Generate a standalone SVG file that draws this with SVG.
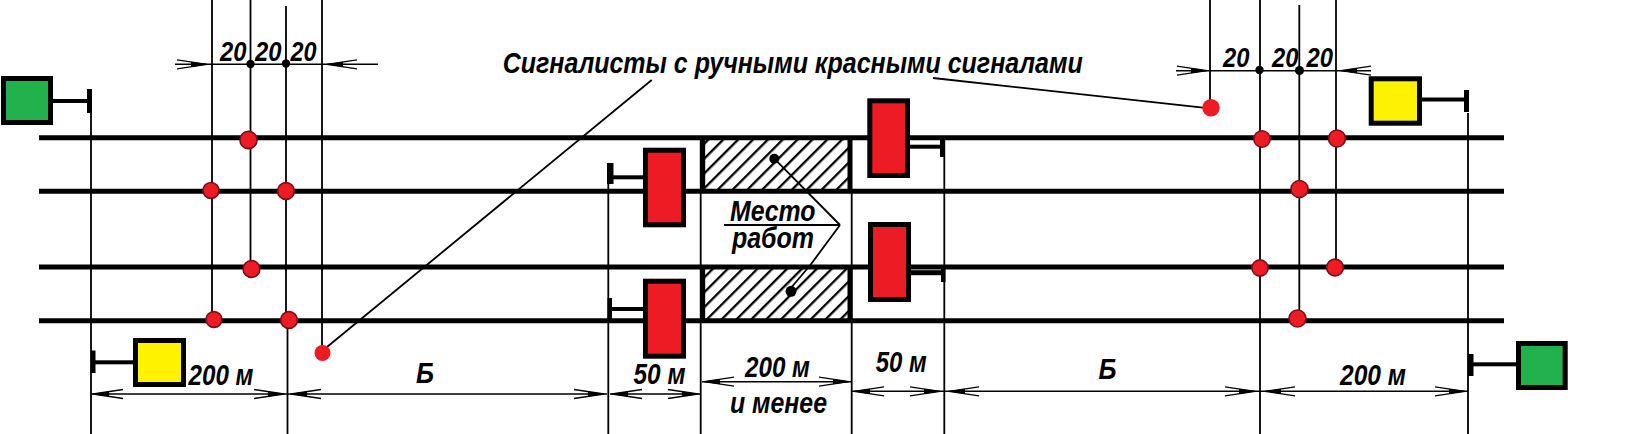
<svg xmlns="http://www.w3.org/2000/svg" width="1646" height="434" viewBox="0 0 1646 434">
<style>
.rail{stroke:#000;stroke-width:5;fill:none}
.thin{stroke:#000;stroke-width:1.8;fill:none}
.dim{stroke:#000;stroke-width:1.5;fill:none}
.thick{stroke:#000;stroke-width:5;fill:none}
.bar{fill:#000}
.sig{stroke:#000;stroke-width:5}
.red{fill:#ed1c24}
.yellow{fill:#fff200}
.green{fill:#22b14c}
.pt{fill:#ed1c24;stroke:#7a0f1c;stroke-width:1.6}
.man{fill:#ed1c24}
.blk{fill:#000}
text{font-family:"Liberation Sans",Arial,sans-serif;font-weight:700;font-style:italic;fill:#000;font-size:30px}
</style>
<defs>
<pattern id="hatch" width="10.5" height="10.5" patternUnits="userSpaceOnUse" patternTransform="rotate(45)">
<rect x="0" y="0" width="2.3" height="10.5" fill="#000"/>
</pattern>
<g id="arr">
<path d="M-32,-4.5 L-2,0 L-32,4.5" fill="none" stroke="#000" stroke-width="1.3"/>
<path d="M-18,-2.6 L0,0 L-18,2.6 Z" fill="#000"/>
</g>
</defs>
<rect width="1646" height="434" fill="#fff"/>

<g id="connectors">
<path class="thin" d="M91,113V434 M212,0V320 M250.5,0V267 M286,6V320 M287.5,320V434 M322,0V350"/>
<path class="thin" d="M608.3,170V434 M700.7,137V434 M851.7,191V434 M944.3,140V434"/>
<path class="thin" d="M1210,0V100 M1260,0V434 M1299.3,5V310 M1336,0V260 M1468,113V434"/>
<path class="thin" d="M651.7,80L327,347 M933,78L1203,107.7"/>
<path class="dim" d="M175,64.3H378 M1176,70.7H1371 M91,394H607 M610,394H700 M702,381.7H851 M852,391.3H1468"/>
<path class="thin" d="M840,225L774.3,158.7 M840,225L810,265.5L790,289 M724,225H840"/>
<use href="#arr" transform="translate(209,64.3)"/>
<use href="#arr" transform="translate(325,64.3) rotate(180)"/>
<use href="#arr" transform="translate(1209,70.7)"/>
<use href="#arr" transform="translate(1339,70.7) rotate(180)"/>
<use href="#arr" transform="translate(91,394) rotate(180)"/>
<use href="#arr" transform="translate(286,394)"/>
<use href="#arr" transform="translate(289,394) rotate(180)"/>
<use href="#arr" transform="translate(606,394)"/>
<use href="#arr" transform="translate(610,394) rotate(180)"/>
<use href="#arr" transform="translate(700,394)"/>
<use href="#arr" transform="translate(702,381.7) rotate(180)"/>
<use href="#arr" transform="translate(851,381.7)"/>
<use href="#arr" transform="translate(852,391.3) rotate(180)"/>
<use href="#arr" transform="translate(942,391.3)"/>
<use href="#arr" transform="translate(947,391.3) rotate(180)"/>
<use href="#arr" transform="translate(1257,391.3)"/>
<use href="#arr" transform="translate(1263,391.3) rotate(180)"/>
<use href="#arr" transform="translate(1467,391.3)"/>
</g>

<g id="rails">
<path class="rail" d="M39,137.7H1504 M39,191.3H1504 M39,267H1504 M39,320.7H1504"/>
</g>

<g id="work-top">
<rect x="703" y="139" width="147" height="51" fill="url(#hatch)"/>
<path class="thick" d="M702.7,137.7V191.3 M850,137.7V191.3"/>
</g>
<g id="work-bottom">
<rect x="703" y="268" width="147" height="52" fill="url(#hatch)"/>
<path class="thick" d="M702.7,267V320.7 M850,267V320.7"/>
</g>
<circle class="blk" cx="774.3" cy="158.7" r="5"/>
<circle class="blk" cx="791" cy="291.3" r="5.5"/>

<g id="points-left">
<circle class="pt" cx="248.5" cy="140" r="8.6"/>
<circle class="pt" cx="211" cy="190.5" r="8"/>
<circle class="pt" cx="286" cy="191" r="8.4"/>
<circle class="pt" cx="251.5" cy="269" r="8.4"/>
<circle class="pt" cx="214" cy="319.5" r="7.9"/>
<circle class="pt" cx="289" cy="320" r="8.4"/>
<circle class="blk" cx="250.5" cy="64" r="4.2"/>
<circle class="blk" cx="286" cy="63.5" r="4.2"/>
</g>
<g id="points-right">
<circle class="pt" cx="1262" cy="139" r="8.2"/>
<circle class="pt" cx="1337" cy="138.5" r="8.5"/>
<circle class="pt" cx="1299.5" cy="189" r="8.5"/>
<circle class="pt" cx="1260" cy="268" r="8.1"/>
<circle class="pt" cx="1335" cy="267.5" r="8.4"/>
<circle class="pt" cx="1297.5" cy="318.5" r="8.5"/>
<circle class="blk" cx="1259.5" cy="70" r="4.2"/>
<circle class="blk" cx="1299.5" cy="70.5" r="4.5"/>
</g>
<circle id="signalman-left" class="man" cx="322.5" cy="353" r="8"/>
<circle id="signalman-right" class="man" cx="1211" cy="107.7" r="8.8"/>

<g id="signal-green-left">
<rect class="bar" x="52" y="99" width="37" height="4"/>
<rect class="bar" x="87" y="89" width="5" height="24"/>
<rect class="sig green" x="3.5" y="78.5" width="47" height="44"/>
</g>
<g id="signal-yellow-left">
<rect class="bar" x="94" y="360.3" width="40" height="4"/>
<rect class="bar" x="91" y="350.5" width="4.5" height="22.5"/>
<rect class="sig yellow" x="135.5" y="340.5" width="48" height="44"/>
</g>
<g id="signal-yellow-right">
<rect class="bar" x="1422" y="97.5" width="43" height="4"/>
<rect class="bar" x="1464" y="90" width="5" height="22"/>
<rect class="sig yellow" x="1371.2" y="78.8" width="48.3" height="44.4"/>
</g>
<g id="signal-green-right">
<rect class="bar" x="1472" y="362.3" width="44" height="4"/>
<rect class="bar" x="1468" y="354" width="5.5" height="22"/>
<rect class="sig green" x="1518.5" y="343.5" width="46.7" height="44"/>
</g>

<g id="signal-red-1">
<rect class="bar" x="612" y="175.3" width="31" height="4"/>
<rect class="bar" x="607" y="163" width="6.5" height="21"/>
<rect class="sig red" x="645.5" y="150.2" width="38" height="74.6"/>
</g>
<g id="signal-red-2">
<rect class="bar" x="612" y="307" width="31" height="4"/>
<rect class="bar" x="607.5" y="298" width="4.5" height="22"/>
<rect class="sig red" x="645.5" y="281.2" width="38" height="75"/>
</g>
<g id="signal-red-3">
<rect class="bar" x="910" y="144.7" width="30" height="4"/>
<rect class="bar" x="940" y="140" width="5" height="17"/>
<rect class="sig red" x="869.8" y="100.8" width="37.7" height="74.7"/>
</g>
<g id="signal-red-4">
<rect class="bar" x="911" y="270.2" width="30" height="5"/>
<rect class="bar" x="941" y="267" width="4.5" height="15"/>
<rect class="sig red" x="870.5" y="224.5" width="38" height="75"/>
</g>

<g id="labels">
<text x="502.7" y="73.3" textLength="580" lengthAdjust="spacingAndGlyphs">Сигналисты с ручными красными сигналами</text>
<text x="220" y="61" style="font-size:28px" textLength="26.5" lengthAdjust="spacingAndGlyphs">20</text>
<text x="255" y="61" style="font-size:28px" textLength="26.5" lengthAdjust="spacingAndGlyphs">20</text>
<text x="290.5" y="61" style="font-size:28px" textLength="26" lengthAdjust="spacingAndGlyphs">20</text>
<text x="1223" y="66.7" style="font-size:28px" textLength="26.5" lengthAdjust="spacingAndGlyphs">20</text>
<text x="1272" y="66.7" style="font-size:28px" textLength="26.5" lengthAdjust="spacingAndGlyphs">20</text>
<text x="1306.5" y="66.7" style="font-size:28px" textLength="26.5" lengthAdjust="spacingAndGlyphs">20</text>
<text x="188.5" y="384.7" textLength="65" lengthAdjust="spacingAndGlyphs">200 м</text>
<text x="416" y="382.7" textLength="18" lengthAdjust="spacingAndGlyphs">Б</text>
<text x="633.5" y="383.7" textLength="52" lengthAdjust="spacingAndGlyphs">50 м</text>
<text x="745" y="377" textLength="65" lengthAdjust="spacingAndGlyphs">200 м</text>
<text x="730" y="412.7" textLength="97" lengthAdjust="spacingAndGlyphs">и менее</text>
<text x="875.7" y="372" textLength="51" lengthAdjust="spacingAndGlyphs">50 м</text>
<text x="1098.5" y="379.3" textLength="18" lengthAdjust="spacingAndGlyphs">Б</text>
<text x="1340" y="385" textLength="66" lengthAdjust="spacingAndGlyphs">200 м</text>
<text x="730" y="220.7" textLength="85.5" lengthAdjust="spacingAndGlyphs">Место</text>
<text x="732" y="248.3" textLength="82" lengthAdjust="spacingAndGlyphs">работ</text>
</g>
</svg>
